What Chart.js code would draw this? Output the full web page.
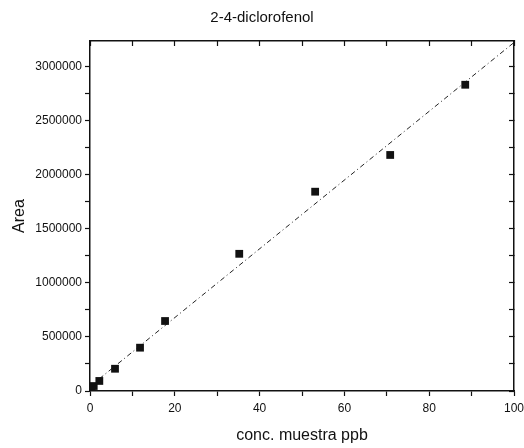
<!DOCTYPE html>
<html>
<head>
<meta charset="utf-8">
<script src="https://cdn.jsdelivr.net/npm/chart.js@4/dist/chart.umd.min.js"></script>
<style>
  body { margin: 0; background: #fff; }
</style>
</head>
<body>
<canvas id="grafica" width="524" height="448"></canvas>
<script>
        // datos medidos
        const conc = [0.35, 0.88, 2.2, 5.9, 11.8, 17.7, 35.2, 53.1, 70.8, 88.5];
        const area = [15000, 46000, 93000, 206000, 401000, 648000, 1270000, 1845000, 2185000, 2835000];

        // recta de ajuste (extremos)
        const ajusteX = [0, 100];
        const ajusteY = [43000, 3226000];

        // marcas de los ejes (las que llevan numero y las intermedias)
        const marcasX = [0, 10, 20, 30, 40, 50, 60, 70, 80, 90, 100];
        const etiquetasX = [0, 20, 40, 60, 80, 100];
        const marcasY = [0, 250000, 500000, 750000, 1000000, 1250000, 1500000, 1750000,
                         2000000, 2250000, 2500000, 2750000, 3000000];
        const etiquetasY = [0, 500000, 1000000, 1500000, 2000000, 2500000, 3000000];

        const fuente = "'Liberation Sans', Arial, sans-serif";
        const negro = '#111';

        const puntos = conc.map((x, i) => ({ x: x, y: area[i] }));
        const recta = ajusteX.map((x, i) => ({ x: x, y: ajusteY[i] }));

        function ponerMarcas(lista){
            return s => { s.ticks = lista.map(v => ({ value: v })); };
        }

        const ctx = document.getElementById('grafica');

        new Chart(ctx, {
            type: 'scatter',
            data: {
                datasets: [{
                    label: 'ajuste',
                    type: 'line',
                    data: recta,
                    showLine: true,
                    borderColor: '#222',
                    borderWidth: 1,
                    borderDash: [5, 3, 1, 3],
                    pointRadius: 0,
                    fill: false,
                    order: 2
                }, {
                    label: '2-4-diclorofenol',
                    data: puntos,
                    pointStyle: 'rect',
                    pointRadius: 5.5,
                    backgroundColor: negro,
                    borderColor: negro,
                    borderWidth: 0,
                    order: 1
                }]
            },
            options: {
                responsive: false,
                animation: false,
                plugins: {
                    legend: { display: false },
                    tooltip: { enabled: false },
                    title: {
                        display: true,
                        text: '2-4-diclorofenol',
                        color: negro,
                        font: { family: fuente, size: 15, weight: 'normal' },
                        padding: { top: 9, bottom: 0 }
                    }
                },
                scales: {
                    x: {
                        type: 'linear',
                        position: 'bottom',
                        min: 0,
                        max: 100,
                        afterBuildTicks: ponerMarcas(marcasX),
                        afterFit: s => {
                            s.height = 57;
                            s.paddingLeft = 0;
                            s.paddingRight = 0;
                        },
                        border: { display: true, color: negro, width: 1.5 },
                        grid: { drawOnChartArea: false, tickLength: 5, tickColor: negro, tickWidth: 1.2 },
                        ticks: {
                            autoSkip: false,
                            maxRotation: 0,
                            padding: 5,
                            color: negro,
                            font: { family: fuente, size: 12 },
                            callback: v => (etiquetasX.includes(v) ? String(v) : '')
                        },
                        title: {
                            display: true,
                            text: 'conc. muestra ppb',
                            color: negro,
                            font: { family: fuente, size: 16 },
                            padding: { top: 0, bottom: 3 }
                        }
                    },
                    y: {
                        type: 'linear',
                        position: 'left',
                        min: 0,
                        max: 3240000,
                        afterBuildTicks: ponerMarcas(marcasY),
                        afterFit: s => { s.width = 90; },
                        border: { display: true, color: negro, width: 1.5 },
                        grid: { drawOnChartArea: false, tickLength: 5, tickColor: negro, tickWidth: 1.2 },
                        ticks: {
                            autoSkip: false,
                            padding: 3,
                            color: negro,
                            font: { family: fuente, size: 12 },
                            callback: v => (etiquetasY.includes(v) ? String(v) : '')
                        },
                        title: {
                            display: true,
                            text: 'Area',
                            color: negro,
                            font: { family: fuente, size: 16 },
                            padding: { top: 10, bottom: 0 }
                        }
                    },
                    x2: {
                        type: 'linear',
                        position: 'top',
                        min: 0,
                        max: 100,
                        afterBuildTicks: ponerMarcas(marcasX),
                        afterFit: s => { s.height = 14; },
                        border: { display: true, color: negro, width: 1.5 },
                        grid: { drawOnChartArea: false, tickLength: -5, tickColor: negro, tickWidth: 1.2 },
                        ticks: { display: false }
                    },
                    y2: {
                        type: 'linear',
                        position: 'right',
                        min: 0,
                        max: 3240000,
                        afterBuildTicks: ponerMarcas(marcasY),
                        afterFit: s => { s.width = 10; },
                        border: { display: true, color: negro, width: 1.5 },
                        grid: { drawOnChartArea: false, tickLength: -5, tickColor: negro, tickWidth: 1.2 },
                        ticks: { display: false }
                    }
                }
            }
        });
</script>
</body>
</html>
